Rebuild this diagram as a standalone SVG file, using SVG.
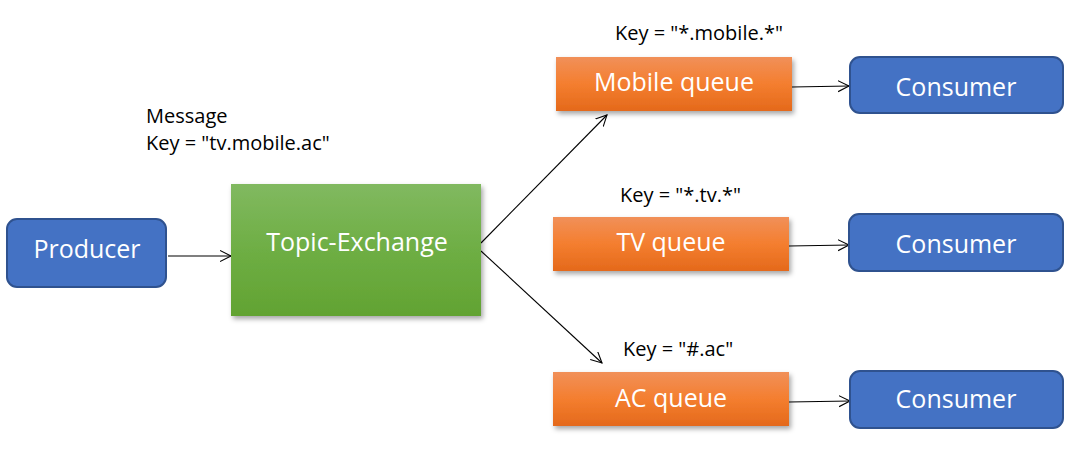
<svg xmlns="http://www.w3.org/2000/svg" width="1067" height="451" viewBox="0 0 1067 451">
<defs>
<style>
.lbl{font-family:"Open Sans","Liberation Sans",sans-serif;font-size:20px;fill:#000}
.wt{font-family:"Open Sans","Liberation Sans",sans-serif;font-size:25px;fill:#fff;text-anchor:middle}
.blue{fill:#4472C4;stroke:#2F528F;stroke-width:2}
.orange{fill:url(#og);filter:url(#sh)}
.conn{stroke:#000;stroke-width:1.1;fill:none;marker-end:url(#arr)}
</style>
<linearGradient id="gg" x1="0" y1="0" x2="0" y2="1">
<stop offset="0" stop-color="#81b960"/>
<stop offset="0.5" stop-color="#6eae44"/>
<stop offset="1" stop-color="#62a332"/>
</linearGradient>
<linearGradient id="og" x1="0" y1="0" x2="0" y2="1">
<stop offset="0" stop-color="#f19059"/>
<stop offset="0.5" stop-color="#f47e2f"/>
<stop offset="1" stop-color="#e4691b"/>
</linearGradient>
<filter id="sh" x="-10%" y="-20%" width="125%" height="150%">
<feDropShadow dx="2" dy="3" stdDeviation="2.5" flood-color="#000" flood-opacity="0.35"/>
</filter>
<marker id="arr" markerUnits="userSpaceOnUse" markerWidth="14" markerHeight="14" refX="11" refY="6" orient="auto">
<path d="M0,0.5 L11,6 L0,11.5" fill="none" stroke="#000" stroke-width="1.1"/>
</marker>
</defs>
<rect width="1067" height="451" fill="#fff"/>
<g id="connectors">
<line class="conn" x1="168" y1="256" x2="231" y2="256"/>
<line class="conn" x1="481" y1="243" x2="607" y2="115"/>
<line class="conn" x1="481" y1="251" x2="602" y2="363"/>
<line class="conn" x1="792" y1="87" x2="849" y2="86"/>
<line class="conn" x1="789" y1="246" x2="849" y2="245"/>
<line class="conn" x1="789" y1="402" x2="850" y2="401"/>
</g>
<g id="producer">
<rect class="blue" x="7" y="219" width="159" height="68" rx="10"/>
<text class="wt" x="87" y="258">Producer</text>
</g>
<g id="message-label">
<text class="lbl" x="146" y="123">Message</text>
<text class="lbl" x="146" y="150">Key = "tv.mobile.ac"</text>
</g>
<g id="topic-exchange">
<rect x="231" y="184" width="250" height="132" fill="url(#gg)" filter="url(#sh)"/>
<text class="wt" x="357" y="251">Topic-Exchange</text>
</g>
<g id="mobile-queue">
<text class="lbl" x="615" y="40">Key = "*.mobile.*"</text>
<rect class="orange" x="556" y="57" width="236" height="54"/>
<text class="wt" x="674" y="91">Mobile queue</text>
</g>
<g id="tv-queue">
<text class="lbl" x="620" y="202">Key = "*.tv.*"</text>
<rect class="orange" x="553" y="217" width="236" height="54"/>
<text class="wt" x="671" y="251">TV queue</text>
</g>
<g id="ac-queue">
<text class="lbl" x="623" y="356">Key = "#.ac"</text>
<rect class="orange" x="553" y="372" width="236" height="54"/>
<text class="wt" x="671" y="407">AC queue</text>
</g>
<g id="consumer-1">
<rect class="blue" x="850" y="57" width="213" height="56" rx="10"/>
<text class="wt" x="956" y="96">Consumer</text>
</g>
<g id="consumer-2">
<rect class="blue" x="849" y="214" width="214" height="57" rx="10"/>
<text class="wt" x="956" y="253">Consumer</text>
</g>
<g id="consumer-3">
<rect class="blue" x="850" y="371" width="213" height="57" rx="10"/>
<text class="wt" x="956" y="408">Consumer</text>
</g>
</svg>
